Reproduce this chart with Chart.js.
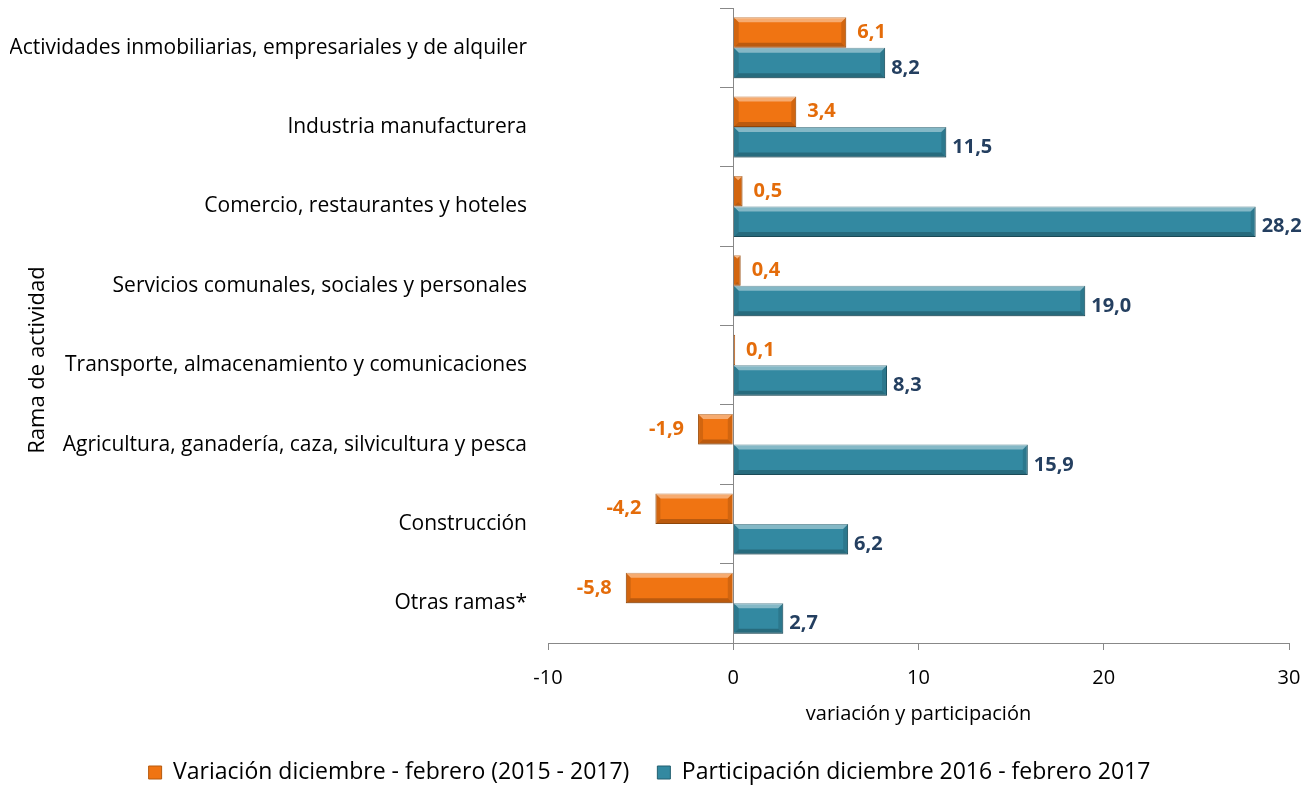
<!DOCTYPE html>
<html>
<head>
<meta charset="utf-8">
<script src="https://cdn.jsdelivr.net/npm/chart.js@4/dist/chart.umd.min.js"></script>
<style>
  body { margin: 0; background: #fff; }
  #wrap { width: 1306px; height: 786px; }
</style>
</head>
<body>
<div id="wrap"><canvas id="ramaChart"></canvas></div>
<script>
// datos
const categories = [
  'Actividades inmobiliarias, empresariales y de alquiler',
  'Industria manufacturera',
  'Comercio, restaurantes y hoteles',
  'Servicios comunales, sociales y personales',
  'Transporte, almacenamiento y comunicaciones',
  'Agricultura, ganadería, caza, silvicultura y pesca',
  'Construcción',
  'Otras ramas*'
];
const variacion = [6.1, 3.4, 0.5, 0.4, 0.1, -1.9, -4.2, -5.8];
const participacion = [8.2, 11.5, 28.2, 19.0, 8.3, 15.9, 6.2, 2.7];
const xMin = -10, xMax = 30, xStep = 10;

const FONT = "'Open Sans', sans-serif";

// bevel look on each bar
const bevelBars = {
  id: 'bevelBars',
  afterDatasetsDraw(chart) {
    const ctx = chart.ctx;
    chart.data.datasets.forEach((ds, i) => {
      const meta = chart.getDatasetMeta(i);
      meta.data.forEach(bar => {
        const l = Math.min(bar.x, bar.base), r = Math.max(bar.x, bar.base);
        const t = bar.y - bar.height / 2, b = bar.y + bar.height / 2;
        const w = r - l;
        if (w < 1) return;
        const e = Math.min(5, w / 2);
        ctx.save();
        // top light
        ctx.fillStyle = 'rgba(255,255,255,0.4)';
        ctx.beginPath();
        ctx.moveTo(l, t); ctx.lineTo(r, t); ctx.lineTo(r - e, t + e); ctx.lineTo(l + e, t + e);
        ctx.closePath(); ctx.fill();
        // bottom dark
        ctx.fillStyle = 'rgba(0,0,0,0.22)';
        ctx.beginPath();
        ctx.moveTo(l, b); ctx.lineTo(r, b); ctx.lineTo(r - e, b - e); ctx.lineTo(l + e, b - e);
        ctx.closePath(); ctx.fill();
        // sides
        ctx.fillStyle = 'rgba(0,0,0,0.12)';
        ctx.beginPath();
        ctx.moveTo(r, t); ctx.lineTo(r, b); ctx.lineTo(r - e, b - e); ctx.lineTo(r - e, t + e);
        ctx.closePath(); ctx.fill();
        ctx.beginPath();
        ctx.moveTo(l, t); ctx.lineTo(l, b); ctx.lineTo(l + e, b - e); ctx.lineTo(l + e, t + e);
        ctx.closePath(); ctx.fill();
        ctx.restore();
      });
    });
  }
};

// value labels next to bars
const barLabels = {
  id: 'barLabels',
  afterDatasetsDraw(chart) {
    const ctx = chart.ctx;
    chart.data.datasets.forEach((ds, i) => {
      const meta = chart.getDatasetMeta(i);
      meta.data.forEach((bar, j) => {
        const v = ds.data[j];
        const txt = v.toFixed(1).replace('.', ',');
        ctx.save();
        ctx.font = 'bold 20px ' + FONT;
        ctx.fillStyle = ds.labelColor;
        ctx.textBaseline = 'middle';
        const y = bar.y + ds.labelShift;
        if (v >= 0) {
          ctx.textAlign = 'left';
          ctx.fillText(txt, bar.x + ds.labelGap, y);
        } else {
          ctx.textAlign = 'right';
          ctx.fillText(txt, bar.x - 14, y);
        }
        ctx.restore();
      });
    });
  }
};

// vertical title on the far left
const yTitle = {
  id: 'yTitle',
  afterDraw(chart) {
    const ctx = chart.ctx;
    ctx.save();
    ctx.translate(38, 360);
    ctx.rotate(-Math.PI / 2);
    ctx.font = '22px ' + FONT;
    ctx.fillStyle = '#000';
    ctx.textAlign = 'center';
    ctx.textBaseline = 'middle';
    ctx.fillText('Rama de actividad', 0, 0);
    ctx.restore();
  }
};

const ctx = document.getElementById('ramaChart').getContext('2d');

new Chart(ctx, {
  type: 'bar',
  data: {
    labels: categories,
    datasets: [{
      label: 'Variación diciembre - febrero (2015 - 2017)',
      data: variacion,
      backgroundColor: '#F07412',
      borderColor: '#B65A0E',
      borderWidth: 1,
      labelColor: '#E46C0A',
      labelShift: 0,
      labelGap: 11,
      barPercentage: 1,
      categoryPercentage: 0.77
    }, {
      label: 'Participación diciembre 2016 - febrero 2017',
      data: participacion,
      backgroundColor: '#3389A1',
      borderColor: '#235F70',
      borderWidth: 1,
      labelColor: '#243F60',
      labelShift: 5,
      labelGap: 6,
      barPercentage: 1,
      categoryPercentage: 0.77
    }]
  },
  options: {
    indexAxis: 'y',
    responsive: true,
    maintainAspectRatio: false,
    animation: false,
    layout: {
      padding: { left: 10, right: 17, top: 8, bottom: -8 }
    },
    plugins: {
      legend: {
        position: 'bottom',
        labels: {
          font: { family: FONT, size: 23 },
          color: '#000',
          boxWidth: 13,
          boxHeight: 13,
          padding: 28
        }
      },
      tooltip: { enabled: false }
    },
    scales: {
      x: {
        min: xMin,
        max: xMax,
        ticks: {
          stepSize: xStep,
          color: '#000',
          font: { family: FONT, size: 20 },
          padding: 16
        },
        grid: {
          drawOnChartArea: false,
          drawTicks: true,
          tickLength: 7,
          color: '#888'
        },
        border: { display: true, color: '#888' },
        title: {
          display: true,
          text: 'variación y participación',
          color: '#000',
          font: { family: FONT, size: 20 },
          padding: { top: -4, bottom: 7 }
        },
        afterFit: s => {
          s.paddingLeft = 0;
          s.paddingRight = 0;
        }
      },
      y: {
        ticks: {
          color: '#000',
          font: { family: FONT, size: 21 },
          padding: 13
        },
        grid: { display: false },
        border: { display: false },
        afterFit: s => {
          s.width = 538;
          s.paddingTop = 0;
          s.paddingBottom = 0;
        }
      },
      y2: {
        axis: 'y',
        type: 'category',
        labels: categories,
        position: { x: 0 },
        offset: true,
        ticks: { display: false },
        grid: {
          offset: true,
          drawOnChartArea: false,
          drawTicks: true,
          tickLength: 13,
          color: '#888'
        },
        border: { display: true, color: '#888' }
      }
    }
  },
  plugins: [bevelBars, barLabels, yTitle]
});
</script>
</body>
</html>
